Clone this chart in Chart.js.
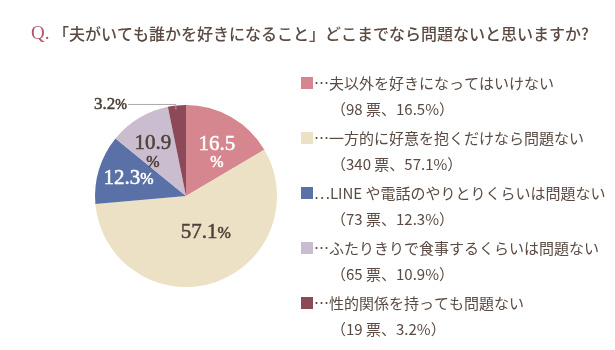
<!DOCTYPE html>
<html>
<head>
<meta charset="utf-8">
<script src="https://cdn.jsdelivr.net/npm/chart.js@4.4.1/dist/chart.umd.min.js"></script>
<style>
  html, body { margin: 0; padding: 0; background: #fff; }
  #wrap { position: relative; width: 615px; height: 350px; }
</style>
</head>
<body>
<div id="wrap"><canvas id="pie" width="615" height="350"></canvas></div>
<script>
// ---------- DATA ----------
const titleQ = 'Q.';
const titleText = '「夫がいても誰かを好きになること」どこまでなら問題ないと思いますか?';
const categories = [
  '…夫以外を好きになってはいけない',
  '…一方的に好意を抱くだけなら問題ない',
  '…LINE や電話のやりとりくらいは問題ない',
  '…ふたりきりで食事するくらいは問題ない',
  '…性的関係を持っても問題ない'
];
const votes = [98, 340, 73, 65, 19];
const percents = [16.5, 57.1, 12.3, 10.9, 3.2];
const colors = ['#d6868f', '#ece1c5', '#5a71a7', '#c9bdcf', '#8c4a58'];

// label look per slice (inside labels, 3.2 goes outside)
const labelColors = ['#ffffff', '#4e4038', '#ffffff', '#4e4038', '#4e4038'];
const labelSplit = [true, false, false, true, false];
const labelRadius = [0.62, 0.42, 0.66, 0.62, 0];
const labelShift = [[3, 6], [8, 0], [0, 0], [-4, 5], [0, 0]];

const textColor = '#5a4a42';
const serif = '"Liberation Serif", "DejaVu Serif", serif';
const jp = '"Noto Sans CJK JP", sans-serif';

// ---------- PLUGINS ----------
const titlePlugin = {
  id: 'titleText',
  afterDraw(chart) {
    const ctx = chart.ctx;
    ctx.save();
    ctx.textBaseline = 'middle';
    ctx.fillStyle = '#b3566b';
    ctx.font = '19px ' + serif;
    ctx.fillText(titleQ, 31, 34);
    ctx.fillStyle = textColor;
    ctx.font = '500 16px ' + jp;
    ctx.fillText(titleText, 53, 34);
    ctx.restore();
  }
};

// filled text with a hairline stroke, so the serif reads a bit heavier
function heavyText(ctx, t, x, y) {
  ctx.fillText(t, x, y);
  ctx.strokeText(t, x, y);
}

const sliceLabels = {
  id: 'sliceLabels',
  afterDraw(chart) {
    const ctx = chart.ctx;
    const arcs = chart.getDatasetMeta(0).data;
    ctx.save();
    ctx.textAlign = 'center';
    ctx.textBaseline = 'middle';
    ctx.lineWidth = 0.5;
    arcs.forEach((arc, i) => {
      const p = arc.getProps(['x', 'y', 'startAngle', 'endAngle', 'outerRadius'], true);
      const mid = (p.startAngle + p.endAngle) / 2;
      const txt = percents[i].toFixed(1);
      ctx.fillStyle = labelColors[i];
      ctx.strokeStyle = labelColors[i];
      if (labelRadius[i] === 0) {
        // outside label with leader line
        const ex = p.x + Math.cos(mid) * p.outerRadius;
        const ey = p.y + Math.sin(mid) * p.outerRadius;
        ctx.save();
        ctx.strokeStyle = '#b0a8a8';
        ctx.lineWidth = 1;
        ctx.beginPath();
        ctx.moveTo(ex - 1, ey + 4);
        ctx.lineTo(ex - 1, ey - 1);
        ctx.lineTo(128, ey - 1);
        ctx.stroke();
        ctx.restore();
        ctx.textAlign = 'right';
        ctx.font = '14px ' + serif;
        const w = ctx.measureText('%').width;
        heavyText(ctx, '%', 127, ey);
        ctx.font = '17px ' + serif;
        heavyText(ctx, txt, 127 - w, ey - 1);
        ctx.textAlign = 'center';
        return;
      }
      const r = p.outerRadius * labelRadius[i];
      const x = p.x + Math.cos(mid) * r + labelShift[i][0];
      const y = p.y + Math.sin(mid) * r + labelShift[i][1];
      if (labelSplit[i]) {
        ctx.font = '21px ' + serif;
        heavyText(ctx, txt, x, y - 9);
        ctx.font = '16px ' + serif;
        heavyText(ctx, '%', x, y + 10);
      } else {
        ctx.font = '21px ' + serif;
        const wn = ctx.measureText(txt).width;
        ctx.font = '16px ' + serif;
        const wp = ctx.measureText('%').width;
        const left = x - (wn + wp) / 2;
        ctx.textAlign = 'left';
        ctx.font = '21px ' + serif;
        heavyText(ctx, txt, left, y);
        ctx.font = '16px ' + serif;
        heavyText(ctx, '%', left + wn, y + 1);
        ctx.textAlign = 'center';
      }
    });
    ctx.restore();
  }
};

const sideLegend = {
  id: 'sideLegend',
  afterDraw(chart) {
    const ctx = chart.ctx;
    ctx.save();
    ctx.textBaseline = 'middle';
    categories.forEach((c, i) => {
      const y = 83 + i * 55;
      ctx.fillStyle = colors[i];
      ctx.fillRect(301, y - 6, 12, 12);
      ctx.fillStyle = textColor;
      ctx.font = '15px ' + jp;
      ctx.fillText(c, 314, y);
      ctx.fillText('（' + votes[i] + ' 票、' + percents[i] + '%）', 331, y + 26);
    });
    ctx.restore();
  }
};

// ---------- CHART ----------
new Chart(document.getElementById('pie'), {
  type: 'pie',
  data: {
    labels: categories,
    datasets: [{
      data: percents,
      backgroundColor: colors,
      borderWidth: 0
    }]
  },
  options: {
    responsive: false,
    animation: false,
    layout: { padding: { left: 95, right: 338, top: 105, bottom: 63 } },
    plugins: {
      legend: { display: false },
      tooltip: { enabled: false }
    }
  },
  plugins: [titlePlugin, sliceLabels, sideLegend]
});
</script>
</body>
</html>
